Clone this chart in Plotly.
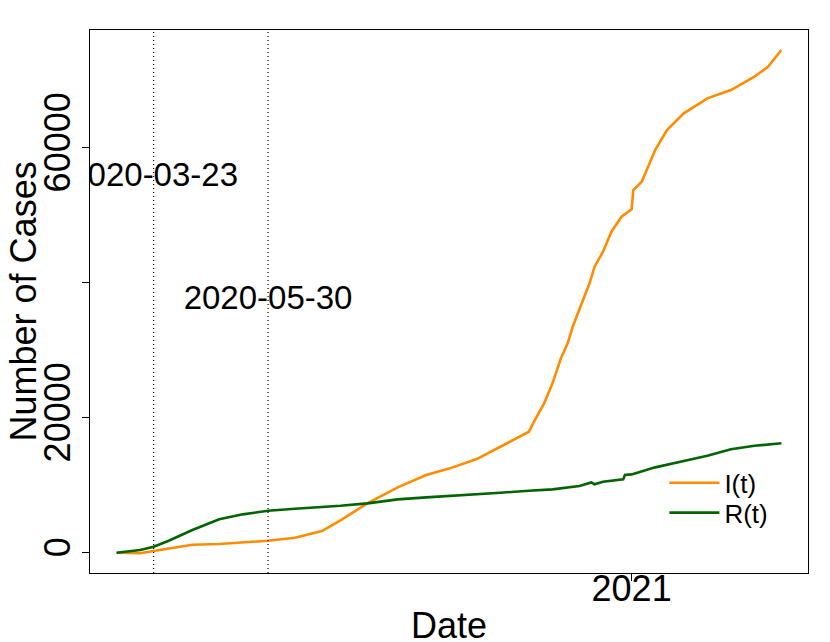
import plotly.graph_objects as go

# I(t): active infections
i_dates = [
    "2020-03-01", "2020-03-15", "2020-03-23", "2020-04-01", "2020-04-15",
    "2020-05-01", "2020-05-15", "2020-05-30", "2020-06-15", "2020-07-01",
    "2020-07-12", "2020-07-28", "2020-08-15", "2020-09-01", "2020-09-15",
    "2020-10-01", "2020-10-15", "2020-11-01", "2020-11-04", "2020-11-10",
    "2020-11-15", "2020-11-20", "2020-11-24", "2020-11-27", "2020-12-01",
    "2020-12-07", "2020-12-10", "2020-12-15", "2020-12-20", "2020-12-26",
    "2021-01-01", "2021-01-02", "2021-01-07", "2021-01-10", "2021-01-15",
    "2021-01-22", "2021-01-28", "2021-02-01", "2021-02-15", "2021-03-01",
    "2021-03-15", "2021-03-23", "2021-03-31",
]
i_values = [
    0, -80, 250, 650, 1190,
    1290, 1540, 1780, 2220, 3210,
    4800, 7320, 9690, 11510, 12500,
    13880, 15700, 17930, 19410, 22130,
    25100, 28800, 31020, 33480, 36060,
    39910, 42370, 44600, 47560, 49780,
    50870, 53730, 54960, 56700, 59660,
    62620, 64100, 65100, 67320, 68550,
    70520, 72000, 74480,
]

# R(t): removed / recovered
r_dates = [
    "2020-03-01", "2020-03-15", "2020-03-23", "2020-04-01", "2020-04-15",
    "2020-05-01", "2020-05-15", "2020-05-30", "2020-06-15", "2020-07-01",
    "2020-07-12", "2020-07-28", "2020-08-01", "2020-08-15", "2020-09-01",
    "2020-09-15", "2020-10-01", "2020-10-15", "2020-11-01", "2020-11-15",
    "2020-12-01", "2020-12-08", "2020-12-10", "2020-12-15", "2020-12-27",
    "2020-12-28", "2021-01-01", "2021-01-15", "2021-02-01", "2021-02-15",
    "2021-03-01", "2021-03-15", "2021-03-31",
]
r_values = [
    0, 400, 890, 1780, 3360,
    4950, 5690, 6220, 6520, 6770,
    6960, 7320, 7470, 7910, 8210,
    8400, 8650, 8890, 9190, 9390,
    9880, 10420, 10150, 10520, 10870,
    11510, 11610, 12650, 13590, 14370,
    15320, 15850, 16210,
]

event_dates = ["2020-03-23", "2020-05-30"]
event_labels = ["2020-03-23", "2020-05-30"]
event_label_y = [55600, 37300]

y_tickvals = [0, 20000, 40000, 60000]
y_ticktext = ["0", "20000", "", "60000"]
x_tickvals = ["2021-01-01"]
x_ticktext = ["2021"]

FONT = "Liberation Sans, Arial, Helvetica, sans-serif"

fig = go.Figure()

fig.add_trace(go.Scatter(x=i_dates, y=i_values, mode="lines", name="I(t)",
                         line=dict(color="#FF8C00", width=2.6), legend="legend"))
fig.add_trace(go.Scatter(x=r_dates, y=r_values, mode="lines", name="R(t)",
                         line=dict(color="#006400", width=2.6), legend="legend2"))

# event labels, clipped by the plot area like base R text()
fig.add_trace(go.Scatter(x=event_dates, y=event_label_y, mode="text",
                         text=event_labels, textposition="middle center",
                         textfont=dict(size=33, color="black", family=FONT),
                         cliponaxis=True, showlegend=False, hoverinfo="skip"))

for d in event_dates:
    fig.add_vline(x=d, line=dict(color="black", width=1.2, dash="1px,3px"))

legend_style = dict(xanchor="left", yanchor="middle", font=dict(size=26),
                    bgcolor="rgba(0,0,0,0)", itemwidth=50)

# page body adds ~8px offset, so the figure is a bit smaller than the window
fig.update_layout(
    width=822, height=634,
    margin=dict(l=82, r=22, t=22, b=69),
    paper_bgcolor="white", plot_bgcolor="white",
    font=dict(family=FONT, color="black"),
    legend=dict(x=0.80, y=0.166, **legend_style),
    legend2=dict(x=0.80, y=0.111, **legend_style),
    annotations=[
        dict(text="Number of Cases", xref="paper", yref="paper",
             x=-0.092, y=0.5, xanchor="center", yanchor="middle",
             textangle=-90, showarrow=False, font=dict(size=36)),
        dict(text="Date", xref="paper", yref="paper",
             x=0.5, y=-0.096, xanchor="center", yanchor="middle",
             showarrow=False, font=dict(size=36)),
    ],
)

fig.update_xaxes(
    type="date", range=["2020-02-14 04:48", "2021-04-15 19:12"],
    tickvals=x_tickvals, ticktext=x_ticktext, tickfont=dict(size=36),
    ticks="outside", ticklen=7, tickcolor="black", ticklabelstandoff=-23,
    showgrid=False, zeroline=False,
    showline=True, mirror=True, linecolor="black", linewidth=1,
)
fig.update_yaxes(
    range=[-3000, 77440],
    tickvals=y_tickvals, ticktext=y_ticktext, tickangle=-90,
    tickfont=dict(size=36), ticklabelstandoff=-2,
    ticks="outside", ticklen=7, tickcolor="black",
    showgrid=False, zeroline=False,
    showline=True, mirror=True, linecolor="black", linewidth=1,
)

fig.write_html("out.html")
